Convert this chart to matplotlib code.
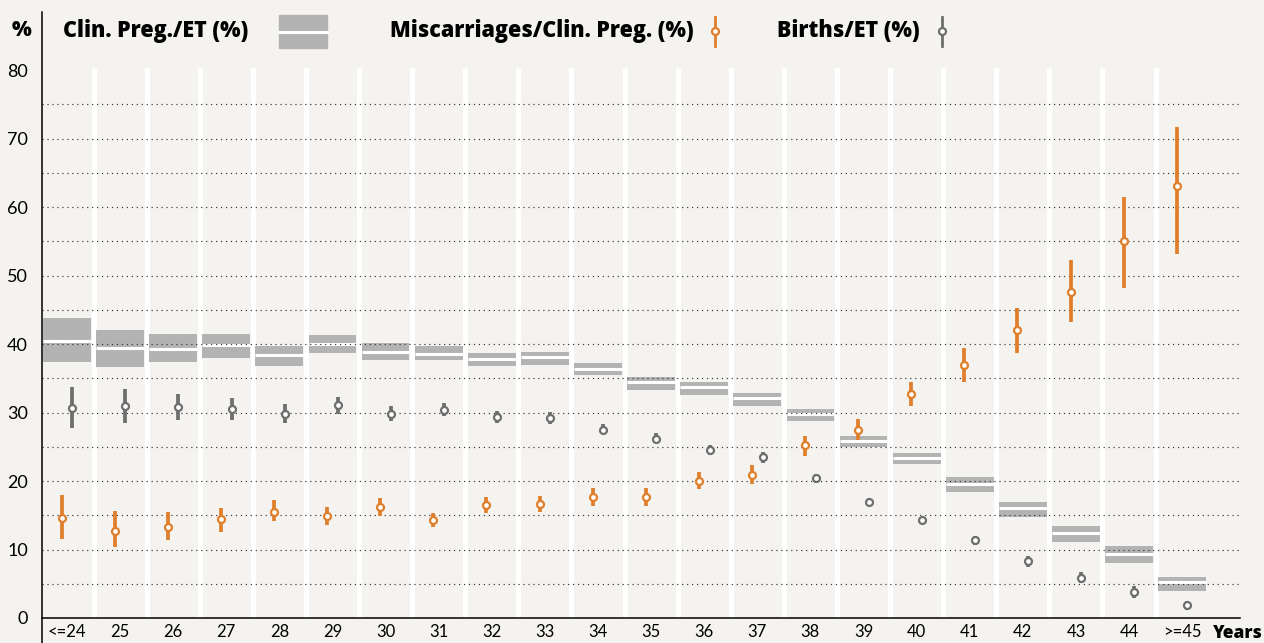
import matplotlib
matplotlib.use("Agg")
import matplotlib.pyplot as plt
from matplotlib.lines import Line2D
from matplotlib.patches import Rectangle

# age groups
ages = ["<=24", "25", "26", "27", "28", "29", "30", "31", "32", "33", "34",
        "35", "36", "37", "38", "39", "40", "41", "42", "43", "44", ">=45"]

# Clin. Preg./ET (%) : estimate and confidence interval
preg_mid = [40.4, 39.4, 39.2, 39.9, 38.4, 40.0, 38.9, 38.6, 37.8, 38.1, 36.4,
            34.5, 33.7, 32.1, 29.8, 25.9, 23.4, 19.5, 16.0, 12.4, 9.3, 5.2]
preg_lo = [37.4, 36.7, 37.4, 38.0, 36.8, 38.7, 37.7, 37.6, 36.8, 37.0, 35.5,
           33.3, 32.6, 31.0, 28.8, 24.9, 22.5, 18.4, 14.8, 11.1, 8.1, 4.0]
preg_hi = [43.8, 42.0, 41.5, 41.5, 39.7, 41.3, 40.1, 39.7, 38.7, 38.9, 37.3,
           35.2, 34.5, 32.9, 30.5, 26.6, 24.1, 20.6, 17.0, 13.4, 10.5, 6.0]

# Miscarriages/Clin. Preg. (%)
misc_mid = [14.6, 12.7, 13.3, 14.4, 15.5, 14.9, 16.2, 14.3, 16.5, 16.6, 17.7,
            17.6, 20.0, 20.9, 25.2, 27.5, 32.7, 36.9, 42.0, 47.6, 55.0, 63.0]
misc_lo = [11.6, 10.3, 11.4, 12.6, 14.1, 13.6, 14.9, 13.3, 15.3, 15.5, 16.3,
           16.3, 18.8, 19.5, 23.6, 26.0, 31.0, 34.5, 38.7, 43.2, 48.2, 53.2]
misc_hi = [18.0, 15.6, 15.5, 16.1, 17.2, 16.2, 17.5, 15.4, 17.7, 17.8, 19.0,
           19.0, 21.3, 22.3, 26.6, 29.1, 34.5, 39.4, 45.3, 52.3, 61.5, 71.7]

# Births/ET (%)
birth_mid = [30.7, 30.9, 30.8, 30.5, 29.8, 31.1, 29.8, 30.4, 29.3, 29.2, 27.5,
             26.2, 24.5, 23.5, 20.4, 17.0, 14.3, 11.4, 8.3, 5.9, 3.75, 1.9]
birth_lo = [27.8, 28.4, 28.9, 28.9, 28.4, 29.8, 28.7, 29.5, 28.4, 28.3, 26.8,
            25.5, 23.8, 22.7, 19.7, 16.4, 13.9, 10.7, 7.5, 5.1, 2.9, 1.2]
birth_hi = [33.7, 33.5, 32.7, 32.1, 31.2, 32.3, 30.9, 31.4, 30.2, 30.1, 28.3,
            27.0, 25.3, 24.2, 21.0, 17.5, 14.7, 12.0, 9.1, 6.7, 4.6, 2.5]

W, H = 1264, 643
BG = "#f5f3ef"
BOX = "#b3b3b3"
ORANGE = "#e07f2b"
GREY = "#6e6e6e"
FONT = "Lato"
BOLD = "Open Sans"


def fx(x):
    return x / W


def fy(y):
    return 1 - y / H


fig = plt.figure(figsize=(W / 100, H / 100), dpi=100, facecolor=BG)
ax = fig.add_axes([fx(42), fy(618), fx(1240) - fx(42), fy(12) - fy(618)])
ax.set_facecolor(BG)

x = list(range(len(ages)))
ax.set_xlim(-0.47, 22.09)
ax.set_ylim(0, 88.47)

# white separators between age columns
ax.vlines([i + 0.5 for i in x[:-1]], 0, 80.3, color="white", lw=3.6, zorder=1)

# clin. preg. boxes
ax.bar(x, [h - l for h, l in zip(preg_hi, preg_lo)], bottom=preg_lo,
       width=0.9, color=BOX, zorder=2)
ax.hlines(preg_mid, [i - 0.45 for i in x], [i + 0.45 for i in x],
          color="white", lw=2.2, zorder=3)

# dotted grid
for g in range(5, 80, 5):
    ax.axhline(g, color="#333333", lw=0.85, ls=(0, (1, 3.2)), zorder=4)

# miscarriages
xm = [i - 0.1 for i in x]
ax.vlines(xm, misc_lo, misc_hi, color=ORANGE, lw=2.7, zorder=5)
ax.plot(xm, misc_mid, "o", ms=5, mfc="white", mec=ORANGE, mew=1.6, zorder=6)

# births
xb = [i + 0.1 for i in x]
ax.vlines(xb, birth_lo, birth_hi, color=GREY, lw=2.7, zorder=5)
ax.plot(xb, birth_mid, "o", ms=5, mfc="white", mec=GREY, mew=1.6, zorder=6)

# axes styling
for s in ["top", "right", "left"]:
    ax.spines[s].set_visible(False)
ax.spines["bottom"].set_linewidth(1.1)
ax.spines["bottom"].set_zorder(7)
ax.set_yticks(range(0, 81, 10))
ax.set_yticklabels([str(v) for v in range(0, 81, 10)], fontsize=13, family=FONT)
ax.set_xticks(x)
ax.set_xticklabels(ages, fontsize=12, family=FONT)
ax.tick_params(axis="y", length=0, pad=10)
ax.tick_params(axis="x", length=0, pad=4)

# left axis line runs to the bottom of the figure
fig.add_artist(Line2D([fx(42), fx(42)], [0, fy(12)], color="black", lw=1.1))

fig.text(fx(1238), fy(633), "Years", fontsize=12.5, fontweight=800,
         family=BOLD, ha="center", va="center")
fig.text(fx(22), fy(31), "%", fontsize=15, fontweight=800, family=BOLD,
         ha="center", va="center")

# legend
fig.text(fx(63), fy(31), "Clin. Preg./ET (%)", fontsize=15.5, fontweight=800,
         family=BOLD, ha="left", va="center")
fig.add_artist(Rectangle((fx(279), fy(48)), fx(48), 33 / H, transform=fig.transFigure,
                         color=BOX))
fig.add_artist(Line2D([fx(279), fx(327)], [fy(31.5), fy(31.5)], color="white", lw=2.2))

fig.text(fx(390), fy(31), "Miscarriages/Clin. Preg. (%)", fontsize=15.5,
         fontweight=800, family=BOLD, ha="left", va="center")
fig.add_artist(Line2D([fx(715), fx(715)], [fy(17), fy(46)], color=ORANGE, lw=2.0))
fig.add_artist(Line2D([fx(715)], [fy(31)], marker="o", ms=5, mfc="white",
                      mec=ORANGE, mew=1.6))

fig.text(fx(777), fy(31), "Births/ET (%)", fontsize=15.5, fontweight=800,
         family=BOLD, ha="left", va="center")
fig.add_artist(Line2D([fx(942), fx(942)], [fy(17), fy(46)], color=GREY, lw=2.0))
fig.add_artist(Line2D([fx(942)], [fy(31)], marker="o", ms=5, mfc="white",
                      mec=GREY, mew=1.6))

fig.savefig("out.png", dpi=100, facecolor=BG)
